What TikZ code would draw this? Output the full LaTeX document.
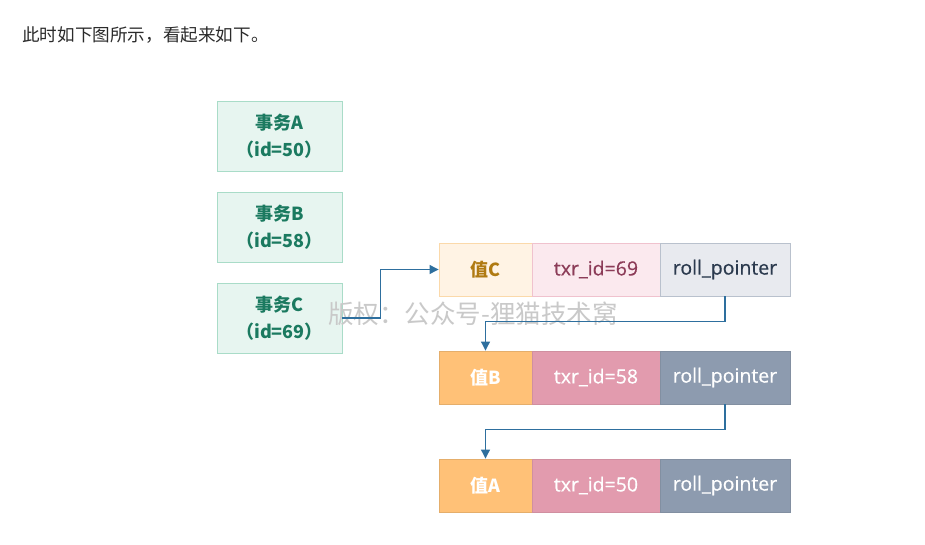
\documentclass[tikz,border=0pt]{standalone}
\usepackage{fontspec}
\setmainfont{Noto Sans CJK SC}
\newfontfamily\cellfont[FakeBold=0.5]{Open Sans}
\usetikzlibrary{arrows.meta}
\definecolor{headtext}{HTML}{2B2B2B}
\definecolor{txfill}{HTML}{E7F5F0}
\definecolor{txline}{HTML}{A9DCC8}
\definecolor{txtext}{HTML}{1B7A60}
\definecolor{vcfill}{HTML}{FFF3E4}
\definecolor{vcline}{HTML}{FBD9AA}
\definecolor{vctext}{HTML}{B07A12}
\definecolor{icfill}{HTML}{FBE9EE}
\definecolor{icline}{HTML}{F0C2CE}
\definecolor{ictext}{HTML}{8C3C58}
\definecolor{pcfill}{HTML}{E8EAEF}
\definecolor{pcline}{HTML}{B9C1CD}
\definecolor{pctext}{HTML}{2B3A4E}
\definecolor{vfill}{HTML}{FFC177}
\definecolor{ifill}{HTML}{E29BAE}
\definecolor{pfill}{HTML}{8D9BAF}
\definecolor{link}{HTML}{2E6F9E}
\definecolor{mark}{HTML}{C9C9C9}
\tikzset{
  txbox/.style={draw=txline, fill=txfill, line width=0.9pt, minimum width=125pt,
    minimum height=70pt, text=txtext, align=center, inner sep=0pt,
    font=\fontsize{18}{27}\selectfont\bfseries},
  cell/.style={line width=0.9pt, minimum height=53pt, inner sep=0pt,
    font=\fontsize{19.5}{22}\cellfont},
  valnew/.style={cell, draw=vcline, fill=vcfill, text=vctext, minimum width=93pt, font=\fontsize{18}{22}\selectfont\bfseries},
  idnew/.style={cell, draw=icline, fill=icfill, text=ictext, minimum width=128pt},
  ptrnew/.style={cell, draw=pcline, fill=pcfill, text=pctext, minimum width=130pt},
  valold/.style={cell, draw=vfill!90!black, fill=vfill, text=white, minimum width=93pt, font=\fontsize{18}{22}\selectfont\bfseries},
  idold/.style={cell, draw=ifill!92!black, fill=ifill, text=white, minimum width=128pt},
  ptrold/.style={cell, draw=pfill!92!black, fill=pfill, text=white, minimum width=130pt},
  link/.style={draw=link, line width=1.1pt, -{Triangle[length=9pt,width=9pt]}}
}
\begin{document}
\begin{tikzpicture}[x=1pt,y=-1pt]
\useasboundingbox (0,0) rectangle (925,545);
\fill[white] (0,0) rectangle (925,545);

% heading line
\node[anchor=west, text=headtext, font=\fontsize{17.6}{20}\selectfont, inner sep=0pt]
  (head) at (22,35) {此时如下图所示，看起来如下。};

% transactions
\node[txbox] (ta) at (279.5,136) {事务A\\（id=50）};
\node[txbox] (tb) at (279.5,227) {事务B\\（id=58）};
\node[txbox] (tc) at (279.5,318) {事务C\\（id=69）};

% version chain: newest row
\node[valnew] (v1) at (485.5,269.5) {值C};
\node[idnew]  (i1) at (596,269.5) {txr\_id=69};
\node[ptrnew] (p1) at (725,269.5) {roll\_pointer};

% older rows
\node[valold] (v2) at (485.5,377.5) {值B};
\node[idold]  (i2) at (596,377.5) {txr\_id=58};
\node[ptrold] (p2) at (725,377.5) {roll\_pointer};

\node[valold] (v3) at (485.5,485.5) {值A};
\node[idold]  (i3) at (596,485.5) {txr\_id=50};
\node[ptrold] (p3) at (725,485.5) {roll\_pointer};

% watermark
\node[text=mark, font=\fontsize{25.5}{28}\selectfont, inner sep=0pt] (wm) at (473,314) {版权：公众号-狸猫技术窝};

% pointers
\draw[link] (tc.east) -- ++(38,0) |- (v1.west);
\draw[link] (p1.south) -- ++(0,25) -| (v2.north);
\draw[link] (p2.south) -- ++(0,25) -| (v3.north);
\end{tikzpicture}
\end{document}
